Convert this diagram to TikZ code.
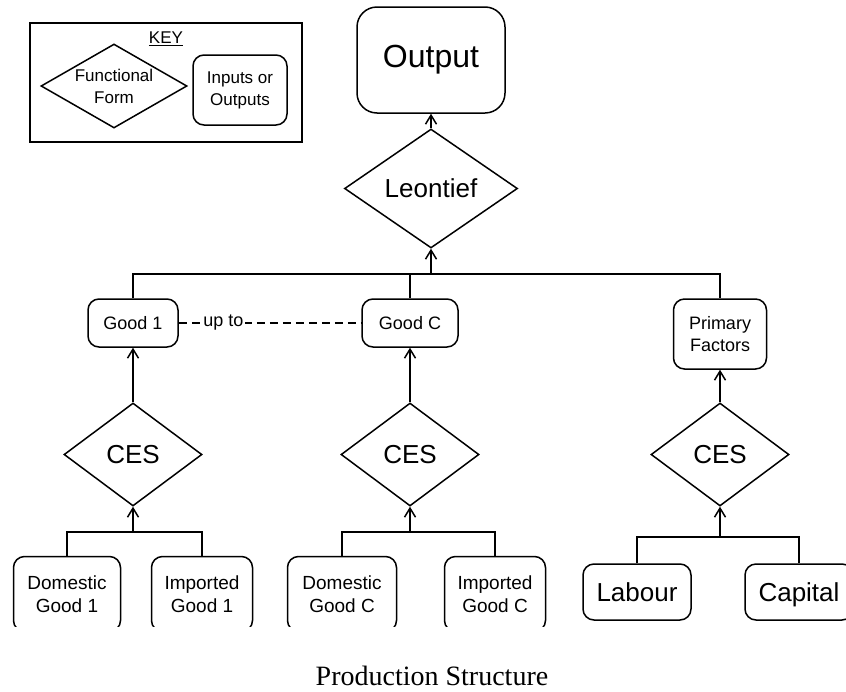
\documentclass[tikz,border=0pt]{standalone}
\usepackage{fontspec}
\setmainfont{Liberation Sans}
\newfontfamily\capfont{Liberation Serif}
\usetikzlibrary{shapes.geometric,arrows.meta}
\begin{document}
\begin{tikzpicture}[x=1pt,y=-1pt, line width=1.5pt, >={Straight Barb[length=9pt,width=11pt]},
    box/.style={draw, rounded corners=11pt, align=center, inner sep=0pt},
    form/.style={draw, diamond, inner sep=0pt},
    fsmall/.style={font=\fontsize{18}{22}\selectfont},
    fbig/.style={font=\fontsize{26}{30}\selectfont}]
  \useasboundingbox (0,0) rectangle (846,691);
  \begin{scope}
    \clip (0,0) rectangle (846,626);
    \draw [line width=2.4pt] (30,23) rectangle (302,142);
    \node (keytitle) at (166,39) [font=\fontsize{17}{21}\selectfont] {\underline{KEY}};
    \node (keyform) at (114,86) [form, minimum width=146pt, minimum height=84pt] {};
    \node (keyformtext) at (114,86) [fill=white, inner sep=1pt, align=center, font=\fontsize{17}{22}\selectfont] {Functional\\Form};
    \node (keybox) at (240,90) [box, minimum width=94pt, minimum height=70pt, font=\fontsize{17}{22}\selectfont] {Inputs or\\Outputs};
    \node (output) at (431,60) [box, rounded corners=20pt, minimum width=148pt, minimum height=106pt, font=\fontsize{32}{36}\selectfont] {Output};
    \node (leontief) at (431,188.5) [form, minimum width=173pt, minimum height=119pt, fbig] {Leontief};
    \node (good1) at (133,323) [box, fsmall, minimum width=90pt, minimum height=48pt] {Good 1};
    \node (goodc) at (410,323) [box, fsmall, minimum width=96pt, minimum height=48pt] {Good C};
    \node (primary) at (720,334) [box, fsmall, minimum width=93pt, minimum height=70pt] {Primary\\Factors};
    \node (ces1) at (133,454.5) [form, minimum width=138pt, minimum height=103pt, fbig] {CES};
    \node (cesc) at (410,454.5) [form, minimum width=138pt, minimum height=103pt, fbig] {CES};
    \node (cesp) at (720,454.5) [form, minimum width=138pt, minimum height=103pt, fbig] {CES};
    \node (dom1) at (67,594) [box, minimum width=107pt, minimum height=75pt, font=\fontsize{19}{23}\selectfont] {Domestic\\Good 1};
    \node (imp1) at (202,594) [box, minimum width=101pt, minimum height=75pt, font=\fontsize{19}{23}\selectfont] {Imported\\Good 1};
    \node (domc) at (342,594) [box, minimum width=109pt, minimum height=75pt, font=\fontsize{19}{23}\selectfont] {Domestic\\Good C};
    \node (impc) at (495,594) [box, minimum width=101pt, minimum height=75pt, font=\fontsize{19}{23}\selectfont] {Imported\\Good C};
    \node (labour) at (637,592) [box, minimum width=108pt, minimum height=56pt, fbig, text height=19pt, text depth=0pt] {Labour};
    \node (capital) at (799,592) [box, minimum width=108pt, minimum height=56pt, fbig, text height=19pt, text depth=0pt] {Capital};
    \coordinate (topbar) at (431,274);
    \coordinate (bar1) at (133,532);
    \coordinate (barc) at (410,532);
    \coordinate (barp) at (720,537);
    \draw [->] (leontief.north) -- (output.south);
    \draw (good1.north) |- (topbar) -| (primary.north);
    \draw (goodc.north) -- (goodc.north |- topbar);
    \draw [->] (topbar) -- (leontief.south);
    \draw [dashed, dash pattern=on 8pt off 5pt, line width=1.2pt] (good1.east) -- node[pos=0.245, fill=white, inner sep=2pt, fsmall] {up to} (goodc.west);
    \draw [->] (ces1.north) -- (good1.south);
    \draw [->] (cesc.north) -- (goodc.south);
    \draw [->] (cesp.north) -- (primary.south);
    \draw (dom1.north) |- (bar1) -| (imp1.north);
    \draw [->] (bar1) -- (ces1.south);
    \draw (domc.north) |- (barc) -| (impc.north);
    \draw [->] (barc) -- (cesc.south);
    \draw (labour.north) |- (barp) -| (capital.north);
    \draw [->] (barp) -- (cesp.south);
  \end{scope}
  \node (caption) at (432,685) [anchor=base, font=\capfont\fontsize{28}{32}\selectfont] {Production Structure};
\end{tikzpicture}
\end{document}
